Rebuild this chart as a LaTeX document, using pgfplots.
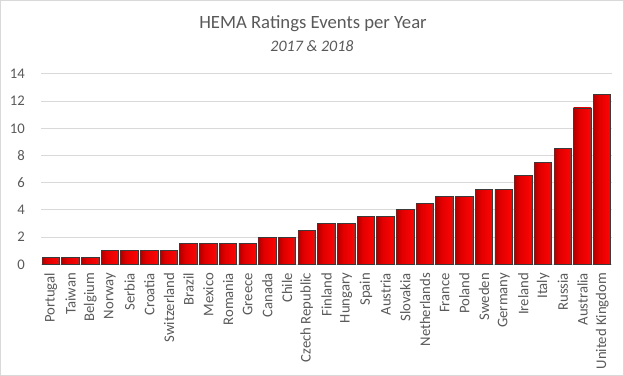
\documentclass[border=0pt]{standalone}
\usepackage{fontspec}
\setmainfont{Carlito}
\usepackage{pgfplots}
\pgfplotsset{compat=1.18}
\definecolor{txt}{HTML}{595959}
\definecolor{gridc}{HTML}{D9D9D9}
\definecolor{bdr}{HTML}{D9D9D9}
\definecolor{darkred}{HTML}{B00000}
\definecolor{midred}{HTML}{E00000}
\definecolor{brightred}{HTML}{FF0505}
\definecolor{barline}{HTML}{3A3A3A}
\pgfdeclarehorizontalshading{barshade}{100bp}{color(0bp)=(darkred); color(25bp)=(darkred); color(40bp)=(midred); color(75bp)=(brightred); color(100bp)=(brightred)}
\pgfplotsset{redbar/.style={ybar, bar width=0.89, draw=barline, line width=0.9bp, shade, shading=barshade, shading angle=0, forget plot}}
\begin{document}
\begin{tikzpicture}
\draw[bdr, line width=1bp] (0.5bp,0.5bp) rectangle (623.5bp,375.5bp);
\node[anchor=base, text=txt, inner sep=0pt, font=\fontsize{18.7bp}{22bp}\selectfont] at (313bp,347bp) {HEMA Ratings Events per Year};
\node[anchor=base, text=txt, inner sep=0pt, font=\fontsize{16bp}{19bp}\selectfont\itshape] at (312bp,324bp) {2017 \& 2018};
\begin{axis}[
  at={(41bp,111.7bp)}, anchor=south west, scale only axis,
  width=571bp, height=190.3bp,
  xmin=-0.5, xmax=28.5, ymin=0, ymax=14,
  ytick={0,2,...,14},
  xtick={0,...,28},
  xticklabels={Portugal,Taiwan,Belgium,Norway,Serbia,Croatia,Switzerland,Brazil,Mexico,Romania,Greece,Canada,Chile,Czech Republic,Finland,Hungary,Spain,Austria,Slovakia,Netherlands,France,Poland,Sweden,Germany,Ireland,Italy,Russia,Australia,United Kingdom},
  /pgf/number format/assume math mode=true,
  axis line style={draw=none},
  major tick length=0pt,
  tick style={draw=none},
  ymajorgrids, grid style={gridc, line width=1bp},
  x tick label style={yshift=-8.5bp, rotate=90, anchor=east, inner sep=0pt, font=\fontsize{14.7bp}{17bp}\selectfont, text=txt},
  y tick label style={anchor=east, inner sep=0pt, xshift=-16bp, font=\fontsize{14.7bp}{17bp}\selectfont, text=txt},
]
\addplot[redbar] coordinates {(0,0.5)};
\addplot[redbar] coordinates {(1,0.5)};
\addplot[redbar] coordinates {(2,0.5)};
\addplot[redbar] coordinates {(3,1)};
\addplot[redbar] coordinates {(4,1)};
\addplot[redbar] coordinates {(5,1)};
\addplot[redbar] coordinates {(6,1)};
\addplot[redbar] coordinates {(7,1.5)};
\addplot[redbar] coordinates {(8,1.5)};
\addplot[redbar] coordinates {(9,1.5)};
\addplot[redbar] coordinates {(10,1.5)};
\addplot[redbar] coordinates {(11,2)};
\addplot[redbar] coordinates {(12,2)};
\addplot[redbar] coordinates {(13,2.5)};
\addplot[redbar] coordinates {(14,3)};
\addplot[redbar] coordinates {(15,3)};
\addplot[redbar] coordinates {(16,3.5)};
\addplot[redbar] coordinates {(17,3.5)};
\addplot[redbar] coordinates {(18,4)};
\addplot[redbar] coordinates {(19,4.5)};
\addplot[redbar] coordinates {(20,5)};
\addplot[redbar] coordinates {(21,5)};
\addplot[redbar] coordinates {(22,5.5)};
\addplot[redbar] coordinates {(23,5.5)};
\addplot[redbar] coordinates {(24,6.5)};
\addplot[redbar] coordinates {(25,7.5)};
\addplot[redbar] coordinates {(26,8.5)};
\addplot[redbar] coordinates {(27,11.5)};
\addplot[redbar] coordinates {(28,12.5)};
\end{axis}
\end{tikzpicture}
\end{document}
